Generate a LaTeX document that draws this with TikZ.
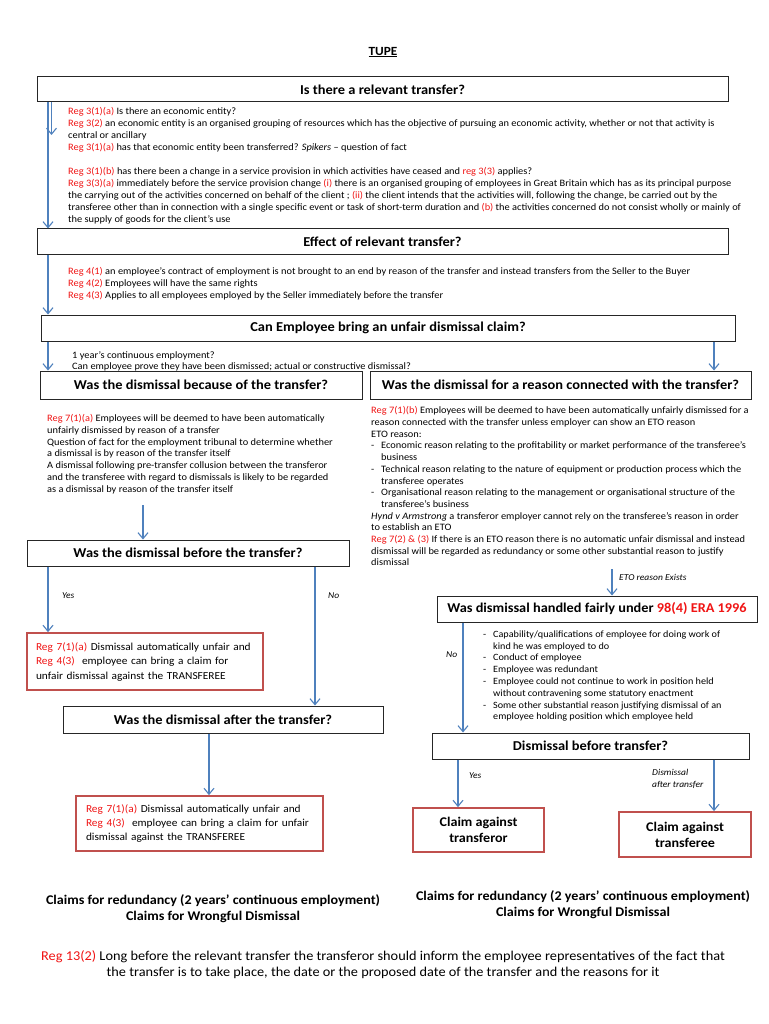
\documentclass[tikz,border=0pt]{standalone}
\usepackage{fontspec}
\setmainfont{Carlito}[FakeStretch=1.06]
\usetikzlibrary{arrows.meta}
\definecolor{regred}{RGB}{240,20,20}
\definecolor{boxred}{RGB}{192,80,77}
\definecolor{arrblue}{RGB}{79,129,189}
\newcommand{\rr}[1]{\textcolor{regred}{#1}}
\newcommand{\dsh}{\makebox[10pt][l]{-}}
\newcommand{\hng}{\hspace*{10pt}}
\begin{document}
\begin{tikzpicture}[x=1pt,y=-1pt,
  qbox/.style={draw=black!85,line width=1pt,fill=white,inner sep=0pt,
    font=\bfseries\fontsize{13.6}{16}\selectfont},
  rbox/.style={draw=boxred,line width=1.8pt,fill=white,inner sep=0pt},
  arr/.style={draw=arrblue,line width=1.1pt,-{Straight Barb[length=6pt,width=10pt]}},
  small/.style={anchor=north west,inner sep=0pt,align=left,
    font=\fontsize{9.8}{12}\selectfont},
  lbl/.style={inner sep=0pt,font=\itshape\fontsize{9}{12.5}\selectfont,align=left},
  claims/.style={inner sep=0pt,align=center,font=\bfseries\fontsize{13.3}{16}\selectfont}
]
\useasboundingbox (0,0) rectangle (768,1024);
\fill[white] (0,0) rectangle (768,1024);

% title
\node[inner sep=0pt,font=\bfseries\fontsize{12.5}{14}\selectfont] (title) at (383,52) {\underline{TUPE}};

% boxes
\node[qbox,minimum width=691pt,minimum height=25pt] (b1) at (382.5,89.5) {Is there a relevant transfer?};
\node[qbox,minimum width=691pt,minimum height=25pt] (b2) at (382.5,241.5) {Effect of relevant transfer?};
\node[qbox,minimum width=694pt,minimum height=26pt] (b3) at (388,328) {Can Employee bring an unfair dismissal claim?};
\node[qbox,minimum width=322pt,minimum height=28pt] (b4) at (201,385) {Was the dismissal because of the transfer?};
\node[qbox,minimum width=381pt,minimum height=28pt] (b5) at (560.5,385) {Was the dismissal for a reason connected with the transfer?};
\node[qbox,minimum width=322pt,minimum height=26pt] (b6) at (188,553) {Was the dismissal before the transfer?};
\node[qbox,minimum width=320pt,minimum height=27pt] (b8) at (223,719.5) {Was the dismissal after the transfer?};
\node[qbox,minimum width=320pt,minimum height=26pt,font=\bfseries\fontsize{13.5}{16}\selectfont] (b10) at (597,609) {Was dismissal handled fairly under \rr{98(4) ERA 1996}};
\node[qbox,minimum width=317pt,minimum height=26pt] (b11) at (590.5,746) {Dismissal before transfer?};

\node[rbox,minimum width=236pt,minimum height=57pt,text width=218pt,align=left,
  font=\fontsize{10.7}{14.5}\selectfont] (r7) at (145,661.5)
  {\rr{Reg 7(1)(a)} Dismissal automatically unfair and\\
   \rr{Reg 4(3)}\ \ employee can bring a claim for\\
   unfair dismissal against the TRANSFEREE};
\node[rbox,minimum width=247pt,minimum height=55pt,text width=227pt,align=left,
  font=\fontsize{10.7}{14}\selectfont] (r9) at (199.5,823.5)
  {\rr{Reg 7(1)(a)} Dismissal automatically unfair and\\
   \rr{Reg 4(3)}\ \ employee can bring a claim for unfair\\
   dismissal against the TRANSFEREE};
\node[rbox,minimum width=131pt,minimum height=44pt,align=center,
  font=\bfseries\fontsize{13.3}{16}\selectfont] (r12) at (478.5,830) {Claim against\\transferor};
\node[rbox,minimum width=132pt,minimum height=45pt,align=center,
  font=\bfseries\fontsize{13.3}{16}\selectfont] (r13) at (685,834.5) {Claim against\\transferee};

% text blocks
\node[small] (t1) at (68,107.5) {%
\rr{Reg 3(1)(a)} Is there an economic entity?\\
\rr{Reg 3(2)} an economic entity is an organised grouping of resources which has the objective of pursuing an economic activity, whether or not that activity is\\
central or ancillary\\
\rr{Reg 3(1)(a)} has that economic entity been transferred? \textit{Spikers} -- question of fact\\
\mbox{}\\
\rr{Reg 3(1)(b)} has there been a change in a service provision in which activities have ceased and \rr{reg 3(3)} applies?\\
\rr{Reg 3(3)(a)} immediately before the service provision change \rr{(i)} there is an organised grouping of employees in Great Britain which has as its principal purpose\\
the carrying out of the activities concerned on behalf of the client ; \rr{(ii)} the client intends that the activities will, following the change, be carried out by the\\
transferee other than in connection with a single specific event or task of short-term duration and \rr{(b)} the activities concerned do not consist wholly or mainly of\\
the supply of goods for the client’s use};

\node[small] (t2) at (68,267.5) {%
\rr{Reg 4(1)} an employee’s contract of employment is not brought to an end by reason of the transfer and instead transfers from the Seller to the Buyer\\
\rr{Reg 4(2)} Employees will have the same rights\\
\rr{Reg 4(3)} Applies to all employees employed by the Seller immediately before the transfer};

\node[small,font=\fontsize{9.8}{11}\selectfont] (t3) at (72,351) {%
1 year’s continuous employment?\\
Can employee prove they have been dismissed; actual or constructive dismissal?};

\node[small,font=\fontsize{9.8}{11.7}\selectfont] (t4) at (47,414.5) {%
\rr{Reg 7(1)(a)} Employees will be deemed to have been automatically\\
unfairly dismissed by reason of a transfer\\
Question of fact for the employment tribunal to determine whether\\
a dismissal is by reason of the transfer itself\\
A dismissal following pre-transfer collusion between the transferor\\
and the transferee with regard to dismissals is likely to be regarded\\
as a dismissal by reason of the transfer itself};

\node[small,font=\fontsize{9.8}{11.7}\selectfont] (t5) at (371,406.5) {%
\rr{Reg 7(1)(b)} Employees will be deemed to have been automatically unfairly dismissed for a\\
reason connected with the transfer unless employer can show an ETO reason\\
ETO reason:\\
\dsh Economic reason relating to the profitability or market performance of the transferee’s\\
\hng business\\
\dsh Technical reason relating to the nature of equipment or production process which the\\
\hng transferee operates\\
\dsh Organisational reason relating to the management or organisational structure of the\\
\hng transferee’s business\\
\textit{Hynd v Armstrong} a transferor employer cannot rely on the transferee’s reason in order\\
to establish an ETO\\
\rr{Reg 7(2) \& (3)} If there is an ETO reason there is no automatic unfair dismissal and instead\\
dismissal will be regarded as redundancy or some other substantial reason to justify\\
dismissal};

\node[small,font=\fontsize{9.6}{11.8}\selectfont] (t6) at (483,630.5) {%
\dsh Capability/qualifications of employee for doing work of\\
\hng kind he was employed to do\\
\dsh Conduct of employee\\
\dsh Employee was redundant\\
\dsh Employee could not continue to work in position held\\
\hng without contravening some statutory enactment\\
\dsh Some other substantial reason justifying dismissal of an\\
\hng employee holding position which employee held};

% claims and bottom note
\node[claims] (c1) at (213,909) {Claims for redundancy (2 years’ continuous employment)\\Claims for Wrongful Dismissal};
\node[claims] (c2) at (583,905) {Claims for redundancy (2 years’ continuous employment)\\Claims for Wrongful Dismissal};
\node[inner sep=0pt,align=center,font=\fontsize{13.5}{16}\selectfont] (note) at (383,965)
 {\rr{Reg 13(2)} Long before the relevant transfer the transferor should inform the employee representatives of the fact that\\
  the transfer is to take place, the date or the proposed date of the transfer and the reasons for it};

% coordinates for connector x positions
\coordinate (xA) at (48,0);
\coordinate (xS) at (51.5,0);
\coordinate (sEnd) at (51.5,135);
\coordinate (xR) at (714,0);
\coordinate (a4s) at (143,505);
\coordinate (xNo) at (315,0);
\coordinate (xAf) at (209,0);
\coordinate (etoS) at (612,569);
\coordinate (x10) at (463,0);
\coordinate (xY2) at (458,0);

% connectors
\draw[arr] (xA |- b1.south) -- (xA |- b2.north);
\draw[arr] (xS |- b1.south) -- (sEnd);
\draw[arr] (xA |- b2.south) -- (xA |- b3.north);
\draw[arr] (xA |- b3.south) -- (xA |- b4.north);
\draw[arr] (xR |- b3.south) -- (xR |- b5.north);
\draw[arr] (a4s) -- (a4s |- b6.north);
\draw[arr] (xA |- b6.south) -- (xA |- r7.north);
\draw[arr] (xNo |- b6.south) -- (xNo |- b8.north);
\draw[arr] (xAf |- b8.south) -- (xAf |- r9.north);
\draw[arr] (etoS) -- (etoS |- b10.north);
\draw[arr] (x10 |- b10.south) -- (x10 |- b11.north);
\draw[arr] (xY2 |- b11.south) -- (xY2 |- r12.north);
\draw[arr] (xR |- b11.south) -- (xR |- r13.north);

% labels
\node[lbl,anchor=west] (lY1) at (62,596) {Yes};
\node[lbl,anchor=west] (lN1) at (328,596) {No};
\node[lbl,anchor=west] (lEto) at (619,577) {ETO reason Exists};
\node[lbl,anchor=west] (lN2) at (446,655) {No};
\node[lbl,anchor=west] (lY2) at (469,776) {Yes};
\node[lbl,anchor=west] (lDa) at (652,779) {Dismissal\\after transfer};
\end{tikzpicture}
\end{document}
